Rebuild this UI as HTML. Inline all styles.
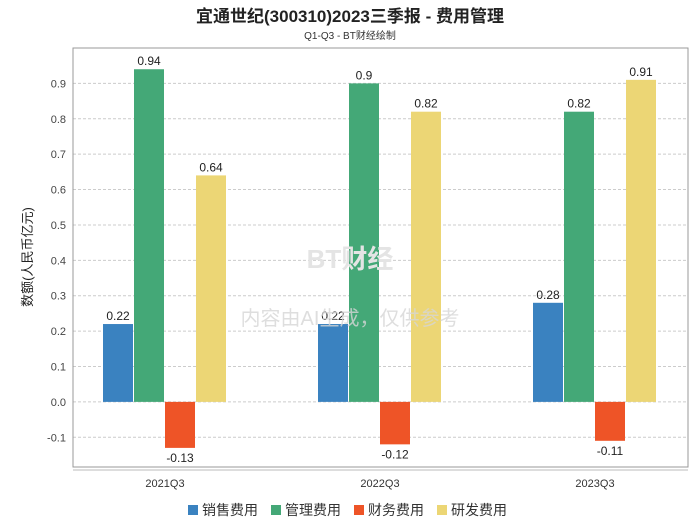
<!DOCTYPE html>
<html><head><meta charset="utf-8"><style>
body{margin:0;background:#fff;}
svg{display:block;font-family:"Liberation Sans","Noto Sans CJK SC",sans-serif;}
</style></head><body>
<svg id="c" width="700" height="524">
<text x="350" y="22" text-anchor="middle" font-size="17" font-weight="bold" fill="#222">宜通世纪(300310)2023三季报 - 费用管理</text>
<text x="350" y="39" text-anchor="middle" font-size="10" fill="#333">Q1-Q3 - BT财经绘制</text>
<text transform="translate(32,257) rotate(-90)" text-anchor="middle" font-size="13" fill="#222">数额(人民币亿元)</text>
<g id="grid"></g>
<g id="bars"></g>
<text x="350" y="268" text-anchor="middle" font-size="26" fill="#e4e4e4" font-weight="bold">BT财经</text>
<text x="350" y="325" text-anchor="middle" font-size="20" fill="#d6d6d6" opacity="0.8">内容由AI生成，仅供参考</text>
<g id="legend"></g>
</svg>
<script>
const categories=["2021Q3","2022Q3","2023Q3"];
const seriesNames=["销售费用","管理费用","财务费用","研发费用"];
const colors=["#3a82c0","#44a877","#ee5427","#ecd675"];
const sales=[0.22,0.22,0.28];
const admin=[0.94,0.9,0.82];
const finance=[-0.13,-0.12,-0.11];
const rnd=[0.64,0.82,0.91];
const yTicks=[-0.1,0,0.1,0.2,0.3,0.4,0.5,0.6,0.7,0.8,0.9];
const series=[sales,admin,finance,rnd];
const L=73,R=688,T=48,B=467,yMax=1.0,yMin=-0.184;
const y=v=>T+(yMax-v)/(yMax-yMin)*(B-T);
const xStart=165,xStep=215;
const xc=i=>xStart+xStep*i;
const NS="http://www.w3.org/2000/svg";
function mk(t,a,p){const e=document.createElementNS(NS,t);for(const k in a)e.setAttribute(k,a[k]);p.appendChild(e);return e;}
const g=document.getElementById('grid'),bg=document.getElementById('bars'),lg=document.getElementById('legend');
yTicks.forEach(v=>{
 const l=mk('line',{x1:L,x2:R,y1:y(v),y2:y(v),stroke:'#ccc','stroke-dasharray':'3,2'},g);
 
 
 const t=mk('text',{x:L-7,y:y(v)+4,'text-anchor':'end','font-size':11,fill:'#444'},g);
 t.textContent=v.toFixed(1);
 
 
});
const box=mk('rect',{x:L,y:T,width:R-L,height:B-T,fill:'none',stroke:'#999'},g);


const xa=mk('line',{x1:L,x2:R,y1:B+3,y2:B+3,stroke:'#bbb'},g);


const bw=30,gap=1;
categories.forEach((c,i)=>{
 const t=mk('text',{x:xc(i),y:B+20,'text-anchor':'middle','font-size':11,fill:'#333'},g);
 t.textContent=c;
 
 
 series.forEach((s,j)=>{
  const v=s[i],x0=xc(i)-62+j*(bw+gap);
  const top=Math.min(y(v),y(0)),h=Math.abs(y(v)-y(0));
  const r=mk('rect',{x:x0,y:top,width:bw,height:h,fill:colors[j]},bg);
  
  
  const lb=mk('text',{x:x0+bw/2,y:v>=0?y(v)-4:y(v)+14,'text-anchor':'middle','font-size':12,fill:'#222'},bg);
  lb.textContent=String(v);
  
  
 });
});
const lx=[188,271,354,437];
seriesNames.forEach((n,j)=>{
 const r=mk('rect',{x:lx[j],y:505,width:10,height:10,fill:colors[j]},lg);
 
 
 const t=mk('text',{x:lx[j]+14,y:515,'font-size':14,fill:'#333'},lg);
 t.textContent=n;
 
 
});
</script>
</body></html>
